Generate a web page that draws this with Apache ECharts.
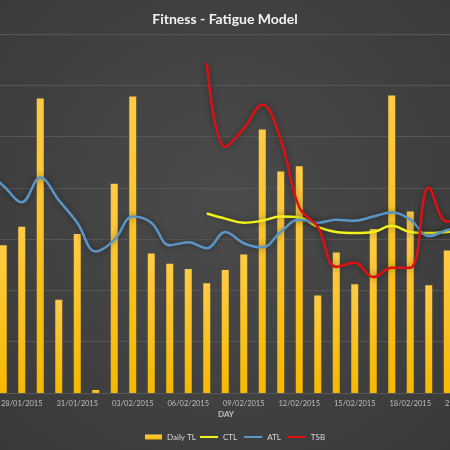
<!DOCTYPE html>
<html lang="en">
<head>
    <meta charset="UTF-8">
    <title>Fitness - Fatigue Model</title>
    <script src="https://cdn.jsdelivr.net/npm/echarts@6/dist/echarts.min.js"></script>
    <style>
        html, body { margin: 0; padding: 0; overflow: hidden; }
        #chart { width: 450px; height: 450px; }
    </style>
</head>
<body>
<div id="chart"></div>
<script>
    // days shown on the x axis (chart is cropped on both sides)
    var days = ['25/01/2015', '26/01/2015', '27/01/2015', '28/01/2015', '29/01/2015', '30/01/2015', '31/01/2015',
        '01/02/2015', '02/02/2015', '03/02/2015', '04/02/2015', '05/02/2015', '06/02/2015', '07/02/2015',
        '08/02/2015', '09/02/2015', '10/02/2015', '11/02/2015', '12/02/2015', '13/02/2015', '14/02/2015',
        '15/02/2015', '16/02/2015', '17/02/2015', '18/02/2015', '19/02/2015', '20/02/2015', '21/02/2015'];

    var dailyTL = [130, 100, 144, 162, 287, 91, 155,
        3, 204, 289, 136, 126, 121, 107,
        120, 135, 257, 216, 221, 95, 137,
        106, 160, 290, 177, 105, 139, 120];

    var ctl = [null, null, null, null, null, null, null,
        null, null, null, null, null, null, 175,
        170, 166, 168, 172, 171, 162, 157,
        156, 157, 163, 157, 156, 157, 158];

    var atl = [213, 215, 202, 186, 210, 188, 166,
        138, 149, 172, 166, 144, 147, 141,
        157, 146, 142, 157, 169, 166, 169,
        168, 172, 176, 169, 153, 159, 163];

    var tsb = [null, null, null, null, null, null, null,
        null, null, null, null, null, null, 322,
        240, 258, 281, 247, 181, 162, 123,
        127, 113, 122, 122, 200, 167, 174];

    var chart = echarts.init(document.getElementById('chart'));

    var lineShadow = {shadowBlur: 6, shadowColor: 'rgba(0, 0, 0, 0.45)'};
    var legendText = {color: '#d9d9d9', fontSize: 8, fontFamily: 'Lato'};

    var option = {
        backgroundColor: {
            type: 'radial', x: 0.5, y: 0.45, r: 0.75,
            colorStops: [{offset: 0, color: '#4b4b4b'}, {offset: 1, color: '#393939'}]
        },
        title: {
            text: 'Fitness - Fatigue Model',
            left: 'center',
            top: 7,
            textStyle: {color: '#f2f2f2', fontSize: 14, fontWeight: 'bold', fontFamily: 'Lato'}
        },
        // two legends: the bar swatch is thicker than the line swatches
        legend: [{
            left: 145,
            top: 433,
            padding: 0,
            itemWidth: 17,
            itemHeight: 5,
            itemGap: 4,
            textStyle: legendText,
            data: [{name: 'Daily TL', icon: 'rect'}]
        }, {
            left: 200,
            top: 433,
            padding: 0,
            itemWidth: 18,
            itemHeight: 2,
            itemGap: 7,
            textStyle: legendText,
            data: [{name: 'CTL', icon: 'rect'}, {name: 'ATL', icon: 'rect'}, {name: 'TSB', icon: 'rect'}]
        }],
        grid: {
            left: -43,
            right: -25,
            top: 34,
            bottom: 57,
            outerBoundsMode: 'none'
        },
        xAxis: {
            type: 'category',
            data: days,
            axisLine: {lineStyle: {color: '#595959'}},
            axisTick: {show: false},
            axisLabel: {
                interval: 2,
                color: '#bfbfbf',
                fontSize: 7.5,
                fontFamily: 'Lato',
                margin: 7
            }
        },
        yAxis: {
            type: 'value',
            min: 0,
            max: 350,
            interval: 50,
            axisLabel: {show: false},
            axisLine: {show: false},
            axisTick: {show: false},
            splitLine: {lineStyle: {color: '#565656', width: 1}}
        },
        graphic: [{
            type: 'text',
            left: 218,
            top: 410,
            style: {text: 'DAY', fill: '#bfbfbf', font: 'bold 8px Lato'}
        }],
        series: [
            {
                name: 'Daily TL',
                type: 'bar',
                barWidth: 7,
                data: dailyTL,
                itemStyle: {
                    color: {
                        type: 'linear', x: 0, y: 0, x2: 0, y2: 1,
                        colorStops: [{offset: 0, color: '#ffcb45'}, {offset: 1, color: '#f5b900'}]
                    }
                }
            },
            {
                name: 'CTL',
                type: 'line',
                data: ctl,
                smooth: 0.4,
                symbol: 'none',
                itemStyle: {color: '#f2f21a'},
                lineStyle: Object.assign({color: '#f2f21a', width: 2.5}, lineShadow)
            },
            {
                name: 'ATL',
                type: 'line',
                data: atl,
                smooth: 0.4,
                symbol: 'none',
                itemStyle: {color: '#5b95c8'},
                lineStyle: Object.assign({color: '#5b95c8', width: 2.5}, lineShadow)
            },
            {
                name: 'TSB',
                type: 'line',
                data: tsb,
                smooth: 0.4,
                symbol: 'none',
                itemStyle: {color: '#dd1111'},
                lineStyle: Object.assign({color: '#dd1111', width: 2.5}, lineShadow)
            }
        ]
    };

    chart.setOption(option);
</script>
</body>
</html>
